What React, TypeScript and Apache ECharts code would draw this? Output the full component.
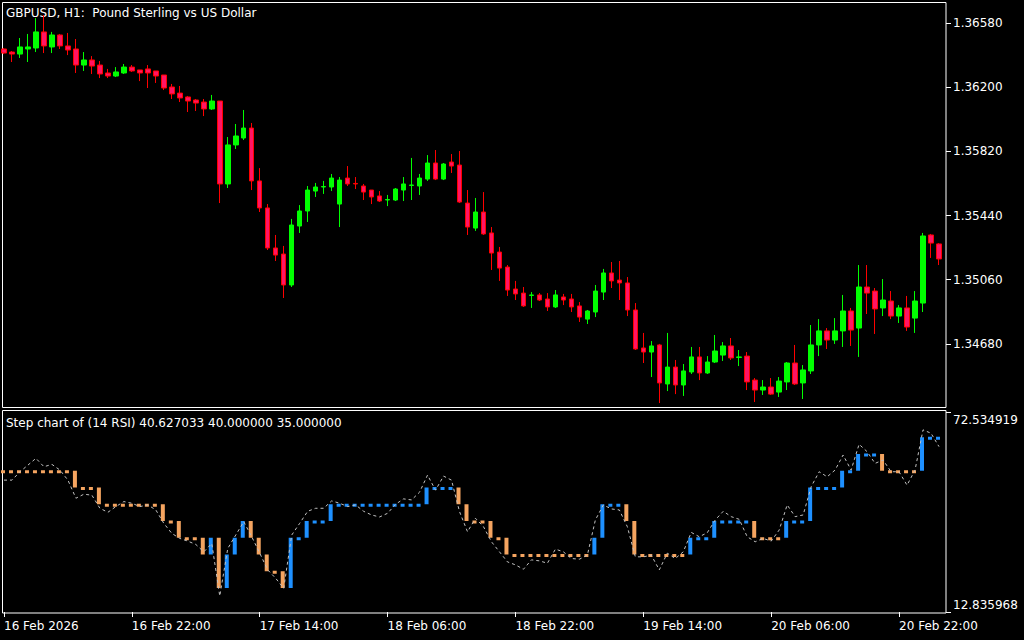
import React, { useEffect, useRef } from 'react';
import * as echarts from 'echarts';

const xTickLabels = ['16 Feb 2026', '16 Feb 22:00', '17 Feb 14:00', '18 Feb 06:00', '18 Feb 22:00', '19 Feb 14:00', '20 Feb 06:00', '20 Feb 22:00'];
const priceTicks = [1.3468, 1.3506, 1.3544, 1.3582, 1.362, 1.3658];
const priceMin = 1.343066;
const priceMax = 1.367042;
const rsiMin = 12.835968;
const rsiMax = 72.534919;

const opens = [
  1.36426, 1.36408, 1.36396, 1.36426, 1.36432, 1.36527, 1.36438, 1.36509, 1.36444, 1.36426,
  1.36331, 1.36361, 1.36331, 1.36284, 1.36266, 1.36284, 1.36319, 1.36302, 1.36308, 1.36296,
  1.36272, 1.36201, 1.36165, 1.36142, 1.36124, 1.36112, 1.36071, 1.36118, 1.35627, 1.35858,
  1.35899, 1.35958, 1.35645, 1.35485, 1.35248, 1.35212, 1.35029, 1.35378, 1.35467, 1.35585,
  1.35609, 1.35609, 1.35508, 1.35662, 1.3563, 1.35615, 1.35591, 1.35556, 1.35532, 1.35532,
  1.35591, 1.35618, 1.35615, 1.35656, 1.35751, 1.35656, 1.35757, 1.35739, 1.35514, 1.35366,
  1.35461, 1.35337, 1.35224, 1.35135, 1.35005, 1.34981, 1.34967, 1.3497, 1.34946, 1.34899,
  1.34958, 1.34946, 1.34905, 1.34827, 1.34869, 1.34987, 1.351, 1.35058, 1.35041, 1.34881,
  1.34656, 1.34632, 1.34674, 1.34443, 1.34543, 1.34437, 1.34514, 1.34603, 1.34508, 1.34573,
  1.34614, 1.34668, 1.346, 1.34608, 1.34466, 1.34407, 1.34425, 1.34395, 1.34455, 1.34567,
  1.34449, 1.3452, 1.34674, 1.34757, 1.34703, 1.34757, 1.34875, 1.34774, 1.35017, 1.34993,
  1.34893, 1.34934, 1.34845, 1.34893, 1.34833, 1.34922, 1.35325, 1.35272,
];
const closes = [
  1.36402, 1.36396, 1.36438, 1.36438, 1.36527, 1.36444, 1.36509, 1.36444, 1.3642, 1.36331,
  1.36361, 1.36325, 1.36278, 1.36266, 1.3629, 1.36319, 1.36296, 1.36284, 1.36284, 1.36266,
  1.36195, 1.3616, 1.36136, 1.36118, 1.36106, 1.36071, 1.36118, 1.35627, 1.35858, 1.35911,
  1.35958, 1.35645, 1.35485, 1.35248, 1.35206, 1.35029, 1.35384, 1.35467, 1.35591, 1.35609,
  1.35612, 1.35662, 1.3565, 1.35627, 1.35627, 1.35579, 1.3555, 1.35526, 1.35535, 1.35597,
  1.35627, 1.35621, 1.35662, 1.35751, 1.35656, 1.35745, 1.35733, 1.3552, 1.35372, 1.35461,
  1.35331, 1.35218, 1.35129, 1.34999, 1.34976, 1.34905, 1.3497, 1.3494, 1.34899, 1.3497,
  1.3494, 1.34899, 1.34839, 1.34875, 1.34993, 1.351, 1.35053, 1.35041, 1.34881, 1.3465,
  1.34632, 1.34668, 1.34449, 1.34543, 1.34437, 1.3452, 1.34603, 1.34508, 1.34573, 1.34638,
  1.34668, 1.34597, 1.34603, 1.34455, 1.34407, 1.34425, 1.34383, 1.3446, 1.34567, 1.34443,
  1.34526, 1.34674, 1.34757, 1.34703, 1.34757, 1.34875, 1.34762, 1.35017, 1.34981, 1.34887,
  1.3494, 1.34845, 1.34893, 1.3478, 1.34934, 1.35319, 1.35277, 1.35183,
];
const highs = [
  1.36432, 1.36414, 1.36491, 1.36515, 1.36609, 1.36627, 1.36527, 1.36515, 1.36521, 1.36485,
  1.36408, 1.36384, 1.36355, 1.36308, 1.36319, 1.36337, 1.36331, 1.36302, 1.36331, 1.36296,
  1.36272, 1.36219, 1.36207, 1.36148, 1.3613, 1.3613, 1.36154, 1.36118, 1.35905, 1.35982,
  1.36065, 1.35988, 1.35721, 1.35508, 1.35325, 1.3526, 1.3542, 1.35502, 1.35615, 1.35633,
  1.35645, 1.35686, 1.35668, 1.35733, 1.35668, 1.35627, 1.35591, 1.35585, 1.35562, 1.35603,
  1.35668, 1.35781, 1.35686, 1.35798, 1.35828, 1.35751, 1.35804, 1.35822, 1.35591, 1.35544,
  1.35579, 1.35372, 1.35254, 1.35147, 1.35053, 1.35017, 1.34987, 1.34981, 1.34981, 1.34999,
  1.34976, 1.34976, 1.34928, 1.34881, 1.35029, 1.35124, 1.35165, 1.35171, 1.35076, 1.34922,
  1.34745, 1.34697, 1.3468, 1.34745, 1.34585, 1.34561, 1.34662, 1.34662, 1.34608, 1.34733,
  1.34691, 1.34715, 1.34644, 1.34632, 1.34478, 1.34466, 1.34478, 1.34484, 1.34573, 1.34674,
  1.34555, 1.34792, 1.34827, 1.34774, 1.34833, 1.3497, 1.34893, 1.35147, 1.35147, 1.35011,
  1.35064, 1.34993, 1.3491, 1.34964, 1.34993, 1.35337, 1.35331, 1.35277,
];
const lows = [
  1.36396, 1.36349, 1.36373, 1.36349, 1.36408, 1.36402, 1.36402, 1.36426, 1.3639, 1.36284,
  1.36296, 1.36278, 1.36254, 1.36254, 1.3626, 1.36278, 1.3629, 1.36236, 1.36195, 1.36225,
  1.36183, 1.3613, 1.36112, 1.36053, 1.36059, 1.36029, 1.36065, 1.35514, 1.35603, 1.35834,
  1.35887, 1.35591, 1.35461, 1.35236, 1.35171, 1.34952, 1.35017, 1.35337, 1.35402, 1.3555,
  1.35568, 1.35585, 1.35372, 1.35615, 1.35597, 1.35532, 1.35508, 1.3552, 1.35496, 1.35526,
  1.35526, 1.35532, 1.35562, 1.35645, 1.3565, 1.3565, 1.35692, 1.35514, 1.35325, 1.35349,
  1.35325, 1.35118, 1.35053, 1.34964, 1.3494, 1.34899, 1.34893, 1.34934, 1.34875, 1.34893,
  1.3491, 1.34869, 1.3481, 1.34798, 1.34839, 1.3494, 1.35011, 1.3494, 1.34845, 1.34644,
  1.34567, 1.34484, 1.3433, 1.34401, 1.34383, 1.34372, 1.34502, 1.34466, 1.34502, 1.34567,
  1.34579, 1.34585, 1.34549, 1.34407, 1.34336, 1.34378, 1.34378, 1.34366, 1.34407, 1.34437,
  1.34354, 1.34502, 1.34608, 1.3465, 1.3468, 1.34662, 1.34668, 1.34603, 1.34857, 1.34739,
  1.34845, 1.34827, 1.34804, 1.34757, 1.34745, 1.34869, 1.35189, 1.35147,
];
const rsiValues = [
  52.2, 52.2, 54.7, 56.7, 58.7, 56.2, 56.9, 55.2, 52.2, 46.8,
  48.0, 47.7, 43.8, 42.6, 44.3, 45.8, 45.3, 44.3, 44.8, 43.3,
  39.3, 36.3, 34.8, 34.0, 33.0, 30.8, 33.3, 17.6, 31.8, 35.8,
  39.8, 35.3, 30.4, 25.4, 22.9, 19.9, 35.8, 39.3, 42.9, 43.8,
  43.8, 46.0, 45.3, 44.3, 44.8, 42.9, 41.8, 41.2, 42.3, 45.0,
  46.6, 46.3, 48.6, 53.7, 49.2, 53.4, 52.2, 42.8, 36.8, 40.8,
  38.3, 33.8, 30.8, 27.8, 26.9, 25.6, 28.4, 28.1, 27.4, 31.6,
  30.8, 28.8, 28.6, 29.8, 40.3, 44.8, 43.6, 43.3, 38.3, 29.3,
  29.3, 29.8, 25.4, 30.4, 28.8, 30.8, 36.6, 35.3, 36.5, 40.3,
  42.9, 41.3, 40.5, 35.3, 33.8, 34.8, 34.0, 37.3, 44.8, 41.3,
  41.8, 50.2, 54.7, 53.2, 55.2, 59.7, 55.2, 62.9, 60.7, 57.2,
  58.2, 54.7, 54.7, 50.7, 55.2, 67.2, 66.2, 62.2,
];
const stepLevels = [
  55, 55, 55, 55, 55, 55, 55, 55, 55, 50,
  50, 50, 45, 45, 45, 45, 45, 45, 45, 45,
  40, 40, 35, 35, 35, 30, 35, 20, 30, 35,
  40, 35, 30, 25, 25, 20, 35, 35, 40, 40,
  40, 45, 45, 45, 45, 45, 45, 45, 45, 45,
  45, 45, 45, 50, 50, 50, 50, 45, 40, 40,
  40, 35, 35, 30, 30, 30, 30, 30, 30, 30,
  30, 30, 30, 30, 35, 45, 45, 45, 40, 30,
  30, 30, 30, 30, 30, 30, 35, 35, 35, 40,
  40, 40, 40, 40, 35, 35, 35, 35, 40, 40,
  40, 50, 50, 50, 50, 55, 55, 60, 60, 60,
  55, 55, 55, 55, 55, 65, 65, 65,
];

const FONT = 'DejaVu Sans';
const UP_COLOR = '#1E90FF';
const DOWN_COLOR = '#F4A460';

export default function App() {
  const ref = useRef<HTMLDivElement>(null);
  useEffect(() => {
    document.body.style.margin = '0';
    document.body.style.background = '#000';
    const chart = echarts.init(ref.current!, null, { renderer: 'svg' });
    const categories = opens.map((_, i) => String(i));
    const candleData = opens.map((o, i) => [o, closes[i], lows[i], highs[i]]);
    let dir = -1;
    const stepData = stepLevels.map((lv, i) => {
      const prev = i === 0 ? lv : stepLevels[i - 1];
      if (lv > prev) dir = 1;
      else if (lv < prev) dir = -1;
      return [i, prev, lv, dir];
    });

    const option: any = {
      animation: false,
      backgroundColor: '#000000',
      textStyle: { fontFamily: FONT },
      grid: [
        { left: -1, top: 2, width: 944, height: 405 },
        { left: -1, top: 412, width: 944, height: 200 },
      ],
      xAxis: [
        {
          type: 'category', gridIndex: 0, data: categories, boundaryGap: true,
          axisLine: { show: false }, axisTick: { show: false }, axisLabel: { show: false }, splitLine: { show: false },
        },
        {
          type: 'category', gridIndex: 1, data: categories, boundaryGap: true,
          axisLine: { show: false },
          axisTick: { show: true, interval: 15, alignWithLabel: true, length: 5, lineStyle: { color: '#ffffff', width: 1 } },
          axisLabel: {
            show: true, interval: 15, color: '#ffffff', fontFamily: FONT, fontSize: 12, align: 'left', margin: 8,
            formatter: (_v: string, idx: number) => xTickLabels[Math.round(idx / 16)] ?? '',
          },
          splitLine: { show: false },
        },
      ],
      yAxis: [
        {
          type: 'value', gridIndex: 0, position: 'right', offset: 3, min: priceMin, max: priceMax, scale: true,
          axisLine: { show: false },
          axisTick: { show: true, length: 5, customValues: priceTicks, lineStyle: { color: '#ffffff' } },
          axisLabel: {
            show: true, customValues: priceTicks, color: '#ffffff', fontFamily: FONT, fontSize: 12, margin: 7,
            formatter: (v: number) => v.toFixed(5),
          },
          splitLine: { show: false },
        },
        {
          type: 'value', gridIndex: 1, position: 'right', offset: 3, min: rsiMin, max: rsiMax,
          axisLine: { show: false },
          axisTick: { show: true, length: 5, customValues: [rsiMin, rsiMax], lineStyle: { color: '#ffffff' } },
          axisLabel: { show: false },
          splitLine: { show: false },
        },
      ],
      series: [
        {
          type: 'candlestick', xAxisIndex: 0, yAxisIndex: 0, data: candleData, barWidth: 5,
          itemStyle: { color: '#00FF00', color0: '#FF1464', borderColor: '#00FF00', borderColor0: '#FF0000', borderWidth: 1 },
        },
        {
          type: 'custom', xAxisIndex: 1, yAxisIndex: 1, data: stepData,
          encode: { x: 0, y: [1, 2] },
          renderItem: (_params: any, api: any) => {
            const idx = api.value(0);
            const prev = api.value(1);
            const cur = api.value(2);
            const color = api.value(3) > 0 ? UP_COLOR : DOWN_COLOR;
            const pCur = api.coord([idx, cur]);
            const pPrev = api.coord([idx, prev]);
            const cx = pCur[0] - 1;
            if (prev === cur) {
              return { type: 'rect', shape: { x: cx - 2, y: pCur[1] - 0.5, width: 4, height: 3 }, style: { fill: color } };
            }
            const top = Math.min(pCur[1], pPrev[1]);
            return { type: 'rect', shape: { x: cx - 2, y: top, width: 4, height: Math.abs(pCur[1] - pPrev[1]) }, style: { fill: color } };
          },
        },
        {
          type: 'line', xAxisIndex: 1, yAxisIndex: 1, data: rsiValues, symbol: 'none',
          lineStyle: { color: '#C0C0C0', width: 1, type: [3, 3] },
        },
      ],
      graphic: [
        { type: 'rect', shape: { x: 2.5, y: 2.5, width: 943.5, height: 405 }, style: { fill: 'none', stroke: '#ffffff', lineWidth: 1 }, silent: true },
        { type: 'rect', shape: { x: 2.5, y: 410.5, width: 943.5, height: 202.5 }, style: { fill: 'none', stroke: '#ffffff', lineWidth: 1 }, silent: true },
        { type: 'text', x: 6, y: 13, style: { text: 'GBPUSD, H1:  Pound Sterling vs US Dollar', fill: '#ffffff', font: `12px "${FONT}"`, verticalAlign: 'middle' } },
        { type: 'text', x: 6, y: 423, style: { text: 'Step chart of (14 RSI) 40.627033 40.000000 35.000000', fill: '#ffffff', font: `12px "${FONT}"`, verticalAlign: 'middle' } },
        { type: 'text', x: 953, y: 420, style: { text: rsiMax.toFixed(6), fill: '#ffffff', font: `12px "${FONT}"`, verticalAlign: 'middle' } },
        { type: 'text', x: 953, y: 605, style: { text: rsiMin.toFixed(6), fill: '#ffffff', font: `12px "${FONT}"`, verticalAlign: 'middle' } },
      ],
    };
    chart.setOption(option);
    return () => chart.dispose();
  }, []);
  return <div ref={ref} style={{ position: 'fixed', left: 0, top: 0, width: 1024, height: 640, background: '#000' }} />;
}
